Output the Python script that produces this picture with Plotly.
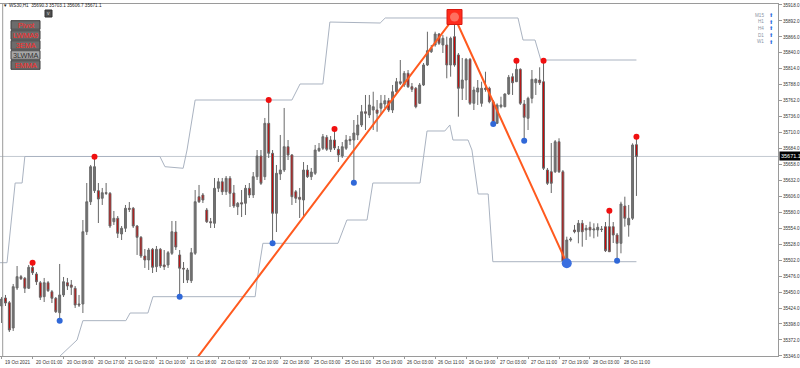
import plotly.graph_objects as go

# ---------------- data ----------------
symbol = "WS30,H1"
x_tick_labels = ["19 Oct 2021", "20 Oct 01:00", "20 Oct 09:00", "20 Oct 17:00", "21 Oct 02:00",
                 "21 Oct 10:00", "21 Oct 18:00", "22 Oct 02:00", "22 Oct 10:00", "22 Oct 18:00",
                 "25 Oct 03:00", "25 Oct 11:00", "25 Oct 19:00", "26 Oct 03:00", "26 Oct 11:00",
                 "26 Oct 19:00", "27 Oct 03:00", "27 Oct 11:00", "27 Oct 19:00", "28 Oct 03:00",
                 "28 Oct 11:00"]
x_tick_bars = [0, 8, 16, 24, 32, 40, 48, 56, 64, 72, 80, 88, 96, 104, 112, 120, 128, 136, 144, 152, 160]
y_tick_vals = [35346, 35372, 35398, 35424, 35450, 35476, 35502, 35528, 35554, 35580, 35606, 35632,
               35658, 35684, 35710, 35736, 35762, 35788, 35814, 35840, 35866, 35892, 35918]

opens = [35427.3, 35440.4, 35432.7, 35391.5, 35456.7, 35475.1, 35472.5, 35456.2, 35490.4, 35479.5,
         35465.3, 35442.5, 35465.3, 35450.6, 35439.9, 35416.4, 35445.3, 35465.3, 35461.6, 35456.2,
         35430.6, 35430.6, 35548.4, 35597.3, 35615.3, 35615.3, 35602.9, 35612.0, 35611.0, 35564.7,
         35570.3, 35544.7, 35554.0, 35586.6, 35586.6, 35557.7, 35539.3, 35508.8, 35502.3, 35519.7,
         35491.4, 35519.7, 35494.2, 35494.2, 35513.2, 35547.9, 35510.5, 35488.8, 35469.7, 35468.6,
         35513.2, 35605.5, 35608.3, 35583.8, 35564.7, 35562.1, 35619.2, 35629.9, 35613.6, 35635.5,
         35611.5, 35589.2, 35595.7, 35594.7, 35619.2, 35608.3, 35638.1, 35671.8, 35638.1, 35725.1,
         35676.2, 35578.4, 35642.5, 35649.0, 35687.0, 35673.5, 35613.6, 35604.5, 35600.1, 35649.0,
         35638.1, 35643.6, 35680.5, 35684.4, 35702.3, 35682.7, 35697.9, 35682.7, 35671.8, 35684.4,
         35699.0, 35697.9, 35706.1, 35722.4, 35744.0, 35738.7, 35746.8, 35746.8, 35749.6, 35756.6,
         35762.0, 35746.8, 35776.6, 35792.9, 35787.6, 35806.6, 35784.8, 35782.2, 35757.7, 35787.6,
         35820.2, 35841.8, 35852.8, 35870.7, 35852.8, 35852.8, 35820.2, 35866.3, 35836.5, 35782.2,
         35795.7, 35829.4, 35757.7, 35776.1, 35757.7, 35782.2, 35782.2, 35760.3, 35725.1, 35752.2,
         35752.2, 35772.9, 35801.1, 35792.9, 35813.1, 35756.6, 35733.3, 35765.9, 35791.3, 35795.7,
         35792.9, 35649.0, 35646.2, 35646.2, 35695.1, 35646.2, 35499.5, 35534.9, 35551.2, 35548.4,
         35562.1, 35551.2, 35555.6, 35551.2, 35551.2, 35552.8, 35556.6, 35556.6, 35556.6, 35543.1,
         35529.5, 35590.3, 35559.4, 35570.3, 35690.3]
highs = [35442.0, 35445.3, 35435.5, 35463.2, 35492.5, 35477.9, 35474.6, 35494.2, 35497.9, 35482.7,
         35468.1, 35473.0, 35468.1, 35453.4, 35442.0, 35495.8, 35474.6, 35473.0, 35469.7, 35459.9,
         35445.3, 35567.5, 35627.8, 35657.2, 35670.7, 35627.8, 35619.7, 35627.8, 35613.1, 35582.2,
         35574.0, 35557.7, 35592.0, 35596.8, 35588.7, 35559.4, 35541.4, 35520.2, 35521.9, 35521.9,
         35525.1, 35521.9, 35518.6, 35517.0, 35565.9, 35565.9, 35518.6, 35499.0, 35489.3, 35521.9,
         35616.4, 35624.6, 35611.5, 35587.1, 35570.8, 35636.0, 35636.0, 35636.0, 35639.2, 35639.2,
         35624.6, 35596.8, 35616.4, 35624.6, 35627.8, 35645.7, 35681.6, 35681.6, 35733.8, 35763.1,
         35681.6, 35657.2, 35706.1, 35750.1, 35697.9, 35675.1, 35616.4, 35619.7, 35662.0, 35657.2,
         35652.3, 35689.8, 35693.0, 35707.7, 35706.1, 35704.4, 35715.8, 35688.1, 35694.6, 35706.1,
         35704.4, 35730.5, 35738.7, 35755.0, 35771.3, 35771.3, 35776.6, 35763.1, 35771.3, 35771.3,
         35766.4, 35787.6, 35799.0, 35828.3, 35810.4, 35812.0, 35790.8, 35784.3, 35790.8, 35823.4,
         35874.4, 35852.8, 35874.4, 35872.3, 35869.1, 35866.3, 35866.3, 35898.4, 35839.7, 35831.6,
         35831.6, 35831.6, 35784.8, 35795.7, 35792.9, 35809.2, 35784.8, 35763.1, 35757.7, 35768.5,
         35774.0, 35803.9, 35806.6, 35827.2, 35814.8, 35763.1, 35768.5, 35812.0, 35798.5, 35816.4,
         35827.2, 35652.3, 35693.0, 35697.9, 35700.7, 35649.0, 35540.3, 35539.8, 35559.4, 35567.5,
         35567.5, 35559.4, 35564.7, 35562.1, 35562.1, 35557.7, 35564.2, 35582.7, 35564.2, 35546.3,
         35597.3, 35605.5, 35592.0, 35692.5, 35703.1]
lows = [35399.6, 35427.3, 35384.9, 35386.6, 35453.4, 35469.7, 35448.5, 35455.0, 35477.9, 35461.6,
        35437.1, 35433.8, 35450.1, 35432.2, 35415.9, 35403.4, 35442.0, 35453.4, 35445.3, 35424.1,
        35425.7, 35415.9, 35543.1, 35592.0, 35611.5, 35562.6, 35592.0, 35608.3, 35554.5, 35559.4,
        35538.2, 35534.9, 35547.9, 35580.5, 35554.5, 35510.5, 35505.6, 35489.3, 35486.0, 35481.1,
        35482.7, 35489.3, 35486.0, 35489.3, 35510.5, 35518.6, 35442.5, 35464.8, 35464.8, 35464.8,
        35510.5, 35595.2, 35595.2, 35562.6, 35554.5, 35554.5, 35613.1, 35608.3, 35608.3, 35588.7,
        35587.1, 35575.6, 35572.4, 35575.6, 35603.4, 35603.4, 35632.7, 35624.6, 35632.7, 35668.6,
        35529.5, 35547.9, 35632.7, 35645.7, 35665.3, 35592.0, 35595.2, 35570.8, 35570.8, 35636.0,
        35632.7, 35640.9, 35678.3, 35681.6, 35680.0, 35678.3, 35681.6, 35662.0, 35668.6, 35681.6,
        35689.8, 35628.3, 35697.9, 35719.1, 35714.2, 35733.8, 35714.2, 35711.4, 35738.7, 35750.1,
        35743.5, 35741.9, 35771.3, 35787.6, 35784.3, 35782.7, 35776.1, 35749.6, 35756.6, 35785.9,
        35818.5, 35839.7, 35850.0, 35852.8, 35839.7, 35798.5, 35801.1, 35817.4, 35735.9, 35763.1,
        35763.1, 35755.0, 35746.8, 35755.0, 35752.2, 35776.6, 35757.7, 35724.0, 35724.0, 35749.6,
        35751.2, 35771.3, 35771.3, 35792.4, 35755.0, 35696.8, 35714.2, 35757.7, 35771.3, 35787.6,
        35649.0, 35624.6, 35611.5, 35644.1, 35644.1, 35499.0, 35496.9, 35532.1, 35545.8, 35529.5,
        35524.0, 35534.9, 35540.3, 35537.7, 35540.3, 35547.9, 35515.3, 35515.3, 35530.0, 35501.2,
        35513.2, 35556.6, 35540.3, 35567.5, 35606.7]
closes = [35438.7, 35432.2, 35388.2, 35458.8, 35475.1, 35471.8, 35456.2, 35490.4, 35481.6, 35466.9,
          35441.5, 35465.3, 35452.3, 35439.9, 35418.0, 35445.3, 35466.9, 35459.9, 35457.8, 35429.0,
          35429.0, 35548.4, 35597.3, 35654.4, 35654.4, 35601.7, 35612.0, 35611.0, 35557.7, 35570.3,
          35545.8, 35554.0, 35586.6, 35584.9, 35557.7, 35539.3, 35508.8, 35502.3, 35518.6, 35490.4,
          35519.7, 35492.5, 35491.4, 35514.2, 35548.4, 35523.5, 35488.8, 35487.6, 35486.0, 35514.2,
          35597.3, 35597.3, 35600.1, 35564.7, 35563.1, 35619.2, 35629.9, 35613.6, 35635.5, 35611.0,
          35590.3, 35594.7, 35593.6, 35619.2, 35608.3, 35638.1, 35671.8, 35627.3, 35725.1, 35676.2,
          35578.4, 35643.6, 35649.0, 35687.0, 35673.5, 35605.5, 35602.9, 35601.2, 35649.0, 35638.1,
          35645.7, 35681.6, 35684.4, 35703.3, 35682.7, 35697.9, 35684.9, 35673.5, 35687.0, 35697.9,
          35696.8, 35709.3, 35722.4, 35744.0, 35741.4, 35755.0, 35752.2, 35741.4, 35757.7, 35762.0,
          35746.8, 35776.6, 35792.9, 35790.3, 35806.6, 35784.8, 35780.5, 35752.2, 35787.6, 35820.2,
          35843.5, 35847.4, 35870.7, 35855.5, 35863.7, 35820.2, 35863.7, 35820.2, 35782.2, 35795.7,
          35829.4, 35757.7, 35779.4, 35782.7, 35782.2, 35780.5, 35760.3, 35726.1, 35755.0, 35755.0,
          35772.9, 35800.1, 35791.3, 35813.1, 35757.7, 35734.9, 35765.9, 35796.8, 35796.8, 35791.3,
          35651.8, 35627.3, 35627.3, 35695.1, 35646.2, 35499.5, 35534.9, 35536.5, 35548.4, 35562.1,
          35548.4, 35554.0, 35551.2, 35552.8, 35555.6, 35552.0, 35517.5, 35515.8, 35543.1, 35529.5,
          35593.6, 35570.3, 35570.3, 35689.8, 35671.1]

# channel (step lines) breakpoints: bar position, price
upper_x = [-0.4, 1.4, 3.5, 5.3, 6.0, 40.9, 42.2, 46.9, 47.9, 50.0, 75.0, 77.1, 83.0, 84.8,
           97.8, 99.1, 133.4, 134.7, 137.8, 139.3, 164]
upper_y = [35497.9, 35497.9, 35627.8, 35627.8, 35671.0, 35671.0, 35654.4, 35651.8, 35681.6,
           35763.1, 35763.1, 35789.2, 35789.2, 35890.2, 35888.6, 35896.8, 35896.8, 35860.9,
           35860.9, 35828.3, 35828.3]
lower_x = [13.8, 15.1, 19.5, 21.0, 32.1, 33.2, 37.8, 39.1, 65.5, 66.0, 67.5, 86.9, 89.2, 94.4,
           95.9, 108.1, 109.9, 114.5, 115.8, 116.6, 120.5, 121.5, 123.1, 125.7, 126.9, 164]
lower_y = [35336.0, 35345.8, 35372.0, 35403.4, 35403.4, 35415.9, 35415.9, 35442.5, 35442.5,
           35469.7, 35529.5, 35529.5, 35567.5, 35567.5, 35627.8, 35627.8, 35712.6, 35712.6,
           35722.4, 35697.9, 35697.9, 35681.6, 35609.9, 35609.9, 35499.5, 35499.5]

# zigzag vertices
zig_x = [45, 117, 146]
zig_y = [35296.8, 35898.4, 35496.9]

# fractal bars
frac_high_bars = [8, 24, 69, 86, 133, 140, 157, 164]
frac_low_bars = [15, 46, 70, 91, 127, 135, 159]
peak_bar = 117
trough_bar = 146

buttons = ["Pivot", "LWMA9", "3EMA", "3LWMA", "EMMA"]
button_active = [True, True, True, False, True]
timeframes = ["M15", "H1", "H4", "D1", "W1"]

# ---------------- layout geometry ----------------
W, H = 800, 368
ML, MR, MT, MB = 0, 22, 4, 12
PW, PH = W - ML - MR, H - MT - MB


def fx(x):
    return (x - ML) / PW


def fy(y):
    return (H - MB - y) / PH


FONT = "Liberation Sans"
fig = go.Figure()

# channel lines
fig.add_trace(go.Scatter(x=upper_x, y=upper_y, mode="lines",
                         line=dict(color="#aab3c1", width=1), hoverinfo="skip"))
fig.add_trace(go.Scatter(x=lower_x, y=lower_y, mode="lines",
                         line=dict(color="#aab3c1", width=1), hoverinfo="skip"))

bars = list(range(len(opens)))
fig.add_trace(go.Candlestick(
    x=bars, open=opens, high=highs, low=lows, close=closes,
    increasing=dict(line=dict(color="#6a6a6a", width=1), fillcolor="#727272"),
    decreasing=dict(line=dict(color="#666666", width=1), fillcolor="#d10000"),
    whiskerwidth=0, hoverinfo="skip"))

# zigzag
fig.add_trace(go.Scatter(x=zig_x, y=zig_y, mode="lines",
                         line=dict(color="#ff5a1f", width=2), hoverinfo="skip"))

# fractal dots
fig.add_trace(go.Scatter(x=frac_high_bars, y=[highs[i] for i in frac_high_bars], mode="markers",
                         marker=dict(color="#f01010", size=6), hoverinfo="skip"))
fig.add_trace(go.Scatter(x=frac_low_bars, y=[lows[i] for i in frac_low_bars], mode="markers",
                         marker=dict(color="#3068d8", size=6), hoverinfo="skip"))
fig.add_trace(go.Scatter(x=[trough_bar], y=[lows[trough_bar]], mode="markers",
                         marker=dict(color="#3a6fe0", size=10), hoverinfo="skip"))
fig.add_trace(go.Scatter(x=[peak_bar], y=[highs[peak_bar]], mode="markers",
                         marker=dict(color="#ff2c1c", size=15, symbol="square",
                                     line=dict(color="#d81a10", width=1)), hoverinfo="skip"))
fig.add_trace(go.Scatter(x=[peak_bar], y=[highs[peak_bar]], mode="markers",
                         marker=dict(color="#ff7060", size=9), hoverinfo="skip"))

shapes = []
annotations = []


def note(x, y, text, size, color, xanchor="center", family=FONT):
    annotations.append(dict(x=fx(x), y=fy(y), xref="paper", yref="paper", xanchor=xanchor,
                            yanchor="middle", text=text, showarrow=False,
                            font=dict(family=family, size=size, color=color)))


# current price line
shapes.append(dict(type="line", xref="paper", x0=0, x1=1, yref="y",
                   y0=closes[-1], y1=closes[-1], line=dict(color="#c3c9d1", width=1), layer="below"))
# left frame
shapes.append(dict(type="line", xref="paper", yref="paper", x0=fx(2.7), x1=fx(2.7), y0=0, y1=1,
                   line=dict(color="#9a9a9a", width=1)))

# current price tag
annotations.append(dict(x=1, xref="paper", y=closes[-1], yref="y", xanchor="left", yanchor="middle",
                        xshift=1, text=f"{closes[-1]:.1f}", showarrow=False, bgcolor="#000000",
                        font=dict(family=FONT, size=5.5, color="#ffffff"), borderpad=1))

# x tick labels (left aligned at tick)
for b, t in zip(x_tick_bars, x_tick_labels):
    annotations.append(dict(x=b, xref="x", y=fy(362), yref="paper", xanchor="left", yanchor="middle",
                            xshift=1, text=t, showarrow=False,
                            font=dict(family=FONT, size=4.6, color="#333333")))

# header
note(1, 5.5, "\u25bc", 4.5, "#222222", xanchor="left")
note(6.5, 5.5, f"{symbol}  {opens[-1]:.1f} {highs[-1]:.1f} {lows[-1]:.1f} {closes[-1]:.1f}",
     4.6, "#222222", xanchor="left")

# small dropdown button
shapes.append(dict(type="rect", xref="paper", yref="paper", x0=fx(45), x1=fx(52), y0=fy(17), y1=fy(10),
                   fillcolor="#505050", line=dict(color="#333333", width=1)))
note(48.5, 13.5, "v", 5, "#dddddd")

# indicator buttons
for k, (name, active) in enumerate(zip(buttons, button_active)):
    top = 20.7 + 10 * k
    shapes.append(dict(type="rect", xref="paper", yref="paper", x0=fx(11), x1=fx(40),
                       y0=fy(top + 8.6), y1=fy(top), fillcolor="#6c6c6c" if active else "#a6a6a6",
                       line=dict(color="#3c3c3c", width=1)))
    note(25.5, top + 4.5, name, 7.3, "#ff2a2a" if active else "#303030")

# timeframe arrows top-right
for k, tf in enumerate(timeframes):
    yy = 15 + 6.75 * k
    note(766, yy, tf, 4.6, "#8a94a4", xanchor="right")
    note(770.5, yy, "\u2b06", 5.2, "#2f6fe0", family="DejaVu Sans")

fig.update_layout(
    width=W, height=H, margin=dict(l=ML, r=MR, t=MT, b=MB, pad=0),
    paper_bgcolor="#ffffff", plot_bgcolor="#ffffff", showlegend=False,
    shapes=shapes, annotations=annotations,
    xaxis=dict(range=[(ML - 1.6) / 3.871, (ML + PW - 1.6) / 3.871], rangeslider=dict(visible=False),
               showgrid=False, zeroline=False, showline=True, linecolor="#9a9a9a", linewidth=1,
               mirror=True, tickvals=x_tick_bars, ticktext=["" for _ in x_tick_bars],
               ticks="outside", ticklen=2, tickcolor="#9a9a9a", fixedrange=True),
    yaxis=dict(range=[35345.8, 35919.6], side="right", showgrid=False, zeroline=False,
               showline=True, linecolor="#9a9a9a", linewidth=1, tickvals=y_tick_vals,
               ticktext=[f"{v:.1f}" for v in y_tick_vals], ticks="outside", ticklen=3,
               tickcolor="#9a9a9a", tickfont=dict(family=FONT, size=4.6, color="#333333"),
               fixedrange=True),
)

fig.write_html("out.html")
